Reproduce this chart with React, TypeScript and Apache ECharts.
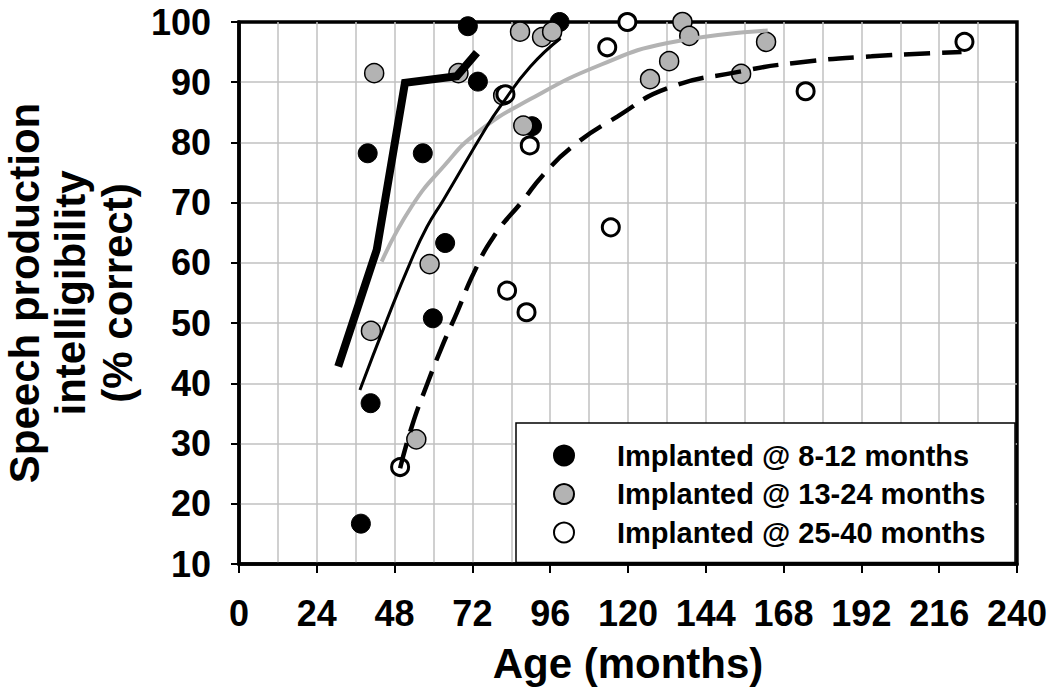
import React, { useEffect, useRef } from 'react';
import * as echarts from 'echarts';

// ---- Data (age in months, speech intelligibility % correct) ----
const seriesNames = [
  'Implanted @ 8-12 months',
  'Implanted @ 13-24 months',
  'Implanted @ 25-40 months',
];

const group8to12: [number, number][] = [
  [37.6, 16.7], [39.7, 78.2], [40.6, 36.7], [56.7, 78.2], [59.8, 50.8],
  [63.6, 63.3], [70.6, 99.3], [73.7, 90.1], [90.4, 82.7], [98.9, 100],
];

const group13to24: [number, number][] = [
  [40.7, 48.7], [41.7, 91.5], [54.7, 30.7], [58.8, 59.8], [67.7, 91.5],
  [81.5, 87.8], [86.7, 98.4], [87.7, 82.8], [93.5, 97.5], [96.6, 98.4],
  [126.8, 90.5], [132.7, 93.5], [136.8, 100], [138.9, 97.7], [154.9, 91.4],
  [162.6, 96.7],
];

const group25to40: [number, number][] = [
  [49.7, 26.1], [82.2, 88.0], [82.7, 55.4], [88.7, 51.8], [89.7, 79.5],
  [113.6, 95.8], [114.7, 65.9], [119.8, 100], [174.8, 88.5], [223.8, 96.7],
];

// thick black polyline
const thickLine: [number, number][] = [
  [30.6, 42.8], [42.5, 62.2], [51.2, 89.9], [67.2, 91.0], [73.4, 94.9],
];

// thin black fitted curve
const fit8to12: [number, number][] = [
  [37.3, 38.9], [45.6, 50.5], [52.8, 60.0], [58.0, 66.0], [63.1, 70.5],
  [76.5, 82.7], [80.6, 86.0], [89.9, 92.6], [99.2, 97.3],
];

// gray fitted curve
const fit13to24: [number, number][] = [
  [44.0, 60.2], [53.3, 69.4], [63.1, 76.0], [73.4, 81.6], [89.9, 87.2],
  [111.6, 92.9], [132.2, 96.5], [163.1, 98.6],
];

// dashed fitted curve
const fit25to40: [number, number][] = [
  [49.7, 25.9], [53.3, 32.8], [58.0, 39.8], [63.1, 46.7], [67.2, 51.7],
  [72.4, 58.3], [78.6, 64.4], [87.8, 70.5], [93.5, 74.4], [102.8, 79.3],
  [116.7, 84.3], [132.2, 89.0], [154.9, 91.8], [171.4, 93.2], [195.1, 94.3],
  [222.9, 95.0],
];

const xTitle = 'Age (months)';
const yTitleLines = ['Speech production', 'intelligibility', '(% correct)'];

const FONT = '"Liberation Sans", Arial, Helvetica, sans-serif';

export default function App() {
  const ref = useRef<HTMLDivElement>(null);

  useEffect(() => {
    if (!ref.current) return;
    const chart = echarts.init(ref.current, undefined, { renderer: 'svg' });

    const gridColor = '#c0c0c0';
    const yTitleX = [24, 70, 117];

    const option: any = {
      animation: false,
      backgroundColor: '#ffffff',
      textStyle: { fontFamily: FONT },
      grid: {
        left: 239, top: 22, width: 778, height: 542,
        show: true, borderColor: '#000', borderWidth: 3.5,
        backgroundColor: 'transparent',
      },
      xAxis: {
        type: 'value', min: 0, max: 240, interval: 24,
        name: xTitle, nameLocation: 'middle', nameGap: 78,
        nameTextStyle: { fontSize: 42, fontWeight: 'bold', color: '#000', fontFamily: FONT },
        axisLine: { show: true, onZero: false, lineStyle: { color: '#000', width: 3.5 } },
        axisTick: { show: true, inside: false, length: 9, lineStyle: { color: '#000', width: 2 } },
        axisLabel: { fontSize: 36, fontWeight: 'bold', color: '#000', margin: 31, fontFamily: FONT },
        splitLine: { show: true, showMinLine: false, showMaxLine: false, lineStyle: { color: gridColor, width: 1.5 } },
        minorTick: { show: false, splitNumber: 2 },
        minorSplitLine: { show: true, lineStyle: { color: gridColor, width: 1.5 } },
      },
      yAxis: {
        type: 'value', min: 10, max: 100, interval: 10,
        axisLine: { show: true, onZero: false, lineStyle: { color: '#000', width: 3.5 } },
        axisTick: { show: true, inside: false, length: 8, lineStyle: { color: '#000', width: 2 } },
        axisLabel: { fontSize: 36, fontWeight: 'bold', color: '#000', margin: 28, fontFamily: FONT },
        splitLine: { show: true, showMinLine: false, showMaxLine: false, lineStyle: { color: gridColor, width: 1.5 } },
      },
      legend: {
        data: seriesNames,
        orient: 'vertical',
        left: 553, top: 441,
        padding: 0,
        itemWidth: 20, itemHeight: 20, itemGap: 9.5,
        selectedMode: false,
        z: 6,
        textStyle: {
          fontSize: 29, fontWeight: 'bold', color: '#000', fontFamily: FONT,
          lineHeight: 20, padding: [0, 0, 0, 38],
        },
      },
      graphic: [
        {
          type: 'rect', z: 5,
          shape: { x: 516, y: 423, width: 499, height: 139.5 },
          style: { fill: '#fff', stroke: '#000', lineWidth: 1.5 },
        },
        ...yTitleLines.map((t, i) => ({
          type: 'text', z: 5,
          x: yTitleX[i], y: 293, rotation: Math.PI / 2,
          style: {
            text: t, fill: '#000', fontSize: 42, fontWeight: 'bold', fontFamily: FONT,
            textAlign: 'center', textVerticalAlign: 'middle',
          },
        })),
      ],
      series: [
        {
          name: seriesNames[0], type: 'scatter', data: group8to12,
          symbol: 'circle', symbolSize: 19,
          itemStyle: { color: '#000', borderColor: '#000', borderWidth: 1, opacity: 1 },
          z: 3,
        },
        {
          name: seriesNames[1], type: 'scatter', data: group13to24,
          symbol: 'circle', symbolSize: 19,
          itemStyle: { color: '#b3b3b3', borderColor: '#000', borderWidth: 1.5, opacity: 1 },
          z: 3,
        },
        {
          name: seriesNames[2], type: 'scatter', data: group25to40,
          symbol: 'circle', symbolSize: 17,
          itemStyle: { color: '#fff', borderColor: '#000', borderWidth: 3, opacity: 1 },
          z: 3,
        },
        {
          name: 'fit 13-24', type: 'line', data: fit13to24,
          smooth: 0.5, symbol: 'none', showSymbol: false,
          lineStyle: { color: '#b3b3b3', width: 4 }, z: 4,
        },
        {
          name: 'fit 8-12', type: 'line', data: fit8to12,
          smooth: 0.5, symbol: 'none', showSymbol: false,
          lineStyle: { color: '#000', width: 3 }, z: 4,
        },
        {
          name: 'fit 25-40', type: 'line', data: fit25to40,
          smooth: 0.5, symbol: 'none', showSymbol: false,
          lineStyle: { color: '#000', width: 4.5, type: [26, 12] }, z: 4,
        },
        {
          name: 'means 8-12', type: 'line', data: thickLine,
          smooth: false, symbol: 'none', showSymbol: false,
          lineStyle: { color: '#000', width: 8, join: 'miter' }, z: 4,
        },
      ],
    };

    chart.setOption(option);
    return () => chart.dispose();
  }, []);

  return (
    <div
      ref={ref}
      style={{ position: 'fixed', left: 0, top: 0, width: 1050, height: 694, background: '#fff' }}
    />
  );
}
